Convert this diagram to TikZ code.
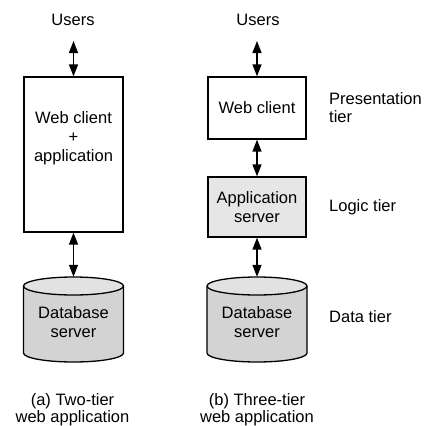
\documentclass[tikz,border=0pt]{standalone}
\usepackage{fontspec}
\setmainfont{Liberation Sans}
\usetikzlibrary{arrows.meta,calc}
\definecolor{cylbody}{HTML}{D3D3D3}
\definecolor{cyltop}{HTML}{E2E2E2}
\definecolor{appfill}{HTML}{E6E6E6}
\tikzset{
  lbl/.style={font=\fontsize{16.5}{19}\selectfont, align=center, inner sep=0pt},
  caption/.style={font=\fontsize{16.5}{17}\selectfont, align=center, inner sep=0pt},
  sidelbl/.style={font=\fontsize{16.5}{18}\selectfont, align=left, anchor=west, inner sep=0pt},
  tierbox/.style={draw, line width=1.3pt, inner sep=0pt},
  link/.style={line width=1.4pt, {Triangle[length=12pt,width=9pt]}-{Triangle[length=12pt,width=9pt]}},
  cyledge/.style={line width=1.3pt}
}
% database cylinder: #1 name, #2 centre x; top rim at y=277, base at y=362
\newcommand\dbcylinder[3]{%
  \node[inner sep=0pt, minimum width=100pt, minimum height=85pt] (#1) at (#2,319.5) {};
  \fill[cylbody] (#2-50,286) -- (#2-50,353) arc[start angle=180,end angle=0,x radius=50,y radius=9] -- (#2+50,286) -- cycle;
  \draw[cyledge] (#2-50,286) -- (#2-50,353) arc[start angle=180,end angle=0,x radius=50,y radius=9] -- (#2+50,286);
  \draw[cyledge, fill=cyltop] (#2,286) ellipse[x radius=50,y radius=9];
  \node[lbl] at (#2,322.5) {#3};
}
\begin{document}
\begin{tikzpicture}[x=1pt,y=-1pt]
\useasboundingbox[fill=white] (0,0) rectangle (426,426);

% (a) two-tier
\node[lbl] (usersA) at (73,20) {Users};
\coordinate (usersAend) at (73.5,41);
\node[tierbox, minimum width=99pt, minimum height=155pt] (clientA) at (73.5,154.5) {};
\node[lbl] at (73.5,138) {Web client\\+\\application};
\dbcylinder{dbA}{73.5}{Database\\server}
\draw[link] (usersAend) -- (clientA.north);
\draw[link] (clientA.south) -- (dbA.north);
\node[caption] at (72.5,410) {(a) Two-tier\\web application};

% (b) three-tier
\node[lbl] (usersB) at (258,20) {Users};
\coordinate (usersBend) at (257,41);
\node[tierbox, minimum width=98pt, minimum height=62pt, lbl] (clientB) at (257,108) {Web client};
\node[tierbox, fill=appfill, minimum width=98pt, minimum height=60pt, lbl] (appB) at (257,207) {Application\\server};
\dbcylinder{dbB}{257}{Database\\server}
\draw[link] (usersBend) -- (clientB.north);
\draw[link] (clientB.south) -- (appB.north);
\draw[link] (appB.south) -- (dbB.north);
\node[caption] at (257,410) {(b) Three-tier\\web application};

% tier names
\node[sidelbl] (presT) at (329,107.5) {Presentation\\tier};
\node[sidelbl] (logicT) at (329,207) {Logic tier};
\node[sidelbl] (dataT) at (329,317) {Data tier};
\end{tikzpicture}
\end{document}
